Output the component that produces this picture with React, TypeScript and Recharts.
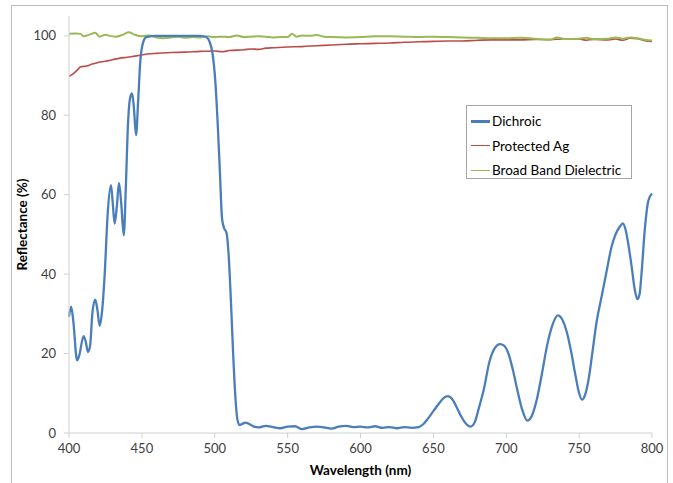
import React from "react";
import { Label, Line, LineChart, XAxis, YAxis } from "recharts";

// Dichroic mirror
const dichroicNm = [
  400, 401.5, 403, 405.5, 407, 410, 411.5, 413, 414.5, 416, 418, 419.5, 421, 422.5, 424.5, 426.5, 428.8, 430,
  431.3, 432.8, 434.3, 435.8, 437.6, 439, 440.5, 442, 443.3, 444.5, 446, 447.5, 449, 451, 453, 460, 470, 480,
  490, 494, 496.5, 498.5, 500.5, 502, 503.5, 505, 506.5, 508, 509.5, 511, 512.5, 514, 515.5, 517, 519, 521,
  524, 527, 530, 535, 540, 545, 550, 555, 560, 565, 570, 575, 580, 585, 590, 595, 600, 605, 610, 615, 620,
  625, 630, 635, 640, 643, 646, 650, 654, 657, 660, 663, 666, 669, 672, 675.5, 678.5, 681, 684.5, 688.5, 692,
  695.7, 698.5, 701.5, 704.5, 707.5, 711, 714.5, 717.5, 721, 724.5, 728, 731.5, 735.5, 738.5, 741.5, 744.5,
  747.5, 750, 752, 754, 756.5, 759, 762, 765.5, 769, 772, 775, 778, 780, 782, 784, 786, 788, 790, 791.5, 793,
  795, 797.5, 800,
];
const dichroicR = [
  29.3, 31.8, 28, 18.3, 19.5, 24.4, 23, 20.4, 22, 30, 33.6, 31, 27, 30, 40, 55, 62.4, 58,
  52.7, 57, 63, 58, 49.8, 62, 78, 84.5, 85.5, 82, 75, 84, 94, 98.5, 99.7, 100, 100, 100,
  100, 99.7, 98.5, 95.5, 88, 78, 66, 54, 51.5, 50.5, 45, 34, 21, 10, 3.5, 2, 2.3, 2.6,
  2.2, 1.6, 1.4, 1.8, 1.5, 1.2, 1.6, 1.7, 1.0, 1.4, 1.6, 1.4, 1.1, 1.6, 1.8, 1.5, 1.6, 1.4, 1.7, 1.3, 1.5,
  1.2, 1.5, 1.3, 1.5, 2.2, 3.5, 5.5, 7.5, 8.8, 9.3, 8.5, 6.5, 4.2, 2.5, 1.6, 2.8, 6, 10.8, 18, 21.3,
  22.4, 22, 20, 16, 11, 5.8, 3.1, 4.3, 8.5, 15, 22, 27, 29.6, 28.5, 25.5, 20.5,
  14.5, 10, 8.4, 9.5, 13.5, 20, 28, 34.5, 41, 46.5, 50, 52, 52.8, 51, 47, 42, 36.5, 33.7, 35, 41,
  51, 58.5, 60.3,
];

// Protected Ag
const agNm = [
  400, 403, 406, 408, 412, 416, 420, 425, 430, 435, 440, 445, 450, 455, 460, 470, 480, 490, 500, 505, 510,
  520, 525, 530, 535, 540, 550, 560, 570, 580, 590, 600, 610, 620, 630, 640, 650, 660, 670, 680, 690, 700,
  710, 720, 730, 740, 750, 755, 760, 770, 775, 780, 785, 790, 795, 800,
];
const agR = [
  89.8, 90.5, 91.5, 92.2, 92.4, 92.9, 93.3, 93.6, 94, 94.4, 94.6, 94.9, 95.2, 95.5, 95.6, 95.8, 95.9, 96.1, 96.2, 96.0, 96.3,
  96.5, 96.7, 96.6, 96.9, 97.0, 97.2, 97.3, 97.5, 97.7, 97.9, 98.0, 98.1, 98.2, 98.4, 98.5, 98.6, 98.7, 98.7, 98.9, 99.0, 99.0,
  99.0, 99.1, 99.1, 99.2, 99.2, 98.9, 99.1, 99.0, 99.2, 98.9, 99.4, 99.3, 98.8, 98.6,
];

// Broad Band Dielectric
const bbdNm = [
  400, 405, 408, 410, 414, 418, 421, 425, 428, 432, 437, 441, 445, 450, 455, 460, 465, 470, 475, 480, 485,
  490, 495, 500, 505, 510, 515, 520, 525, 530, 535, 540, 545, 550, 553, 556, 560, 565, 570, 575, 580, 590,
  600, 610, 620, 630, 640, 650, 660, 670, 680, 690, 700, 710, 720, 730, 735, 740, 750, 755, 760, 770, 775,
  780, 785, 790, 795, 800,
];
const bbdR = [
  100.5, 100.6, 100.5, 99.9, 100.3, 100.8, 99.8, 100.3, 100, 99.8, 100.3, 100.9, 100.3, 99.9, 100.1, 99.6, 99.4, 99.6, 99.8, 99.5, 99.7,
  99.6, 99.9, 99.7, 99.8, 99.7, 100.1, 99.7, 99.8, 99.9, 99.8, 99.6, 99.7, 99.7, 100.5, 99.8, 100.1, 100.0, 100.2, 99.8, 99.7, 99.6,
  99.7, 99.9, 99.9, 99.8, 99.7, 99.8, 99.7, 99.6, 99.5, 99.4, 99.4, 99.5, 99.3, 99.0, 99.6, 99.2, 99.3, 99.5, 99.2, 99.3, 99.6,
  99.3, 99.6, 99.4, 99.0, 98.8,
];

const xTicks = [400, 450, 500, 550, 600, 650, 700, 750, 800];
const yTicks = [0, 20, 40, 60, 80, 100];

const legendItems = [
  { name: "Dichroic", color: "#4a7ebb", width: 2.5 },
  { name: "Protected Ag", color: "#be4b48", width: 1 },
  { name: "Broad Band Dielectric", color: "#98b954", width: 1 },
];

const toRows = (nm: number[], r: number[]) => nm.map((x, i) => ({ nm: x, r: r[i] }));

const font = "Lato, 'Open Sans', sans-serif";
const tickStyle = { fontSize: 13, fill: "#404040", fontFamily: font };
const titleStyle = { fontSize: 13.5, fontWeight: 700, fill: "#000", fontFamily: font };
const axisColor = "#d0d0d0";

export default function App() {
  return (
    <div style={{ position: "absolute", left: 0, top: 0, width: 673, height: 483, overflow: "hidden", background: "#fff" }}>
      <div
        style={{
          position: "absolute",
          left: 11,
          top: 5,
          width: 657,
          height: 490,
          border: "1px solid #bdbdbd",
          boxSizing: "border-box",
        }}
      />
      <div style={{ position: "absolute", left: 0, top: 0 }}>
        <LineChart width={673} height={483} margin={{ top: 16, right: 21, bottom: 0, left: 0 }}>
          <XAxis
            type="number"
            dataKey="nm"
            domain={[400, 800]}
            ticks={xTicks}
            height={50}
            stroke={axisColor}
            tickSize={5}
            tickMargin={6}
            tick={tickStyle}
            allowDuplicatedCategory={false}
          >
            <Label value="Wavelength (nm)" position="insideBottom" offset={8} style={titleStyle} />
          </XAxis>
          <YAxis
            type="number"
            dataKey="r"
            domain={[0, 105]}
            ticks={yTicks}
            width={69}
            stroke={axisColor}
            tickSize={5}
            tickMargin={8}
            tick={tickStyle}
          >
            <Label
              value="Reflectance (%)"
              angle={-90}
              position="insideLeft"
              offset={22}
              style={{ ...titleStyle, textAnchor: "middle" }}
            />
          </YAxis>
          <Line
            data={toRows(agNm, agR)}
            dataKey="r"
            type="monotone"
            stroke="#be4b48"
            strokeWidth={1.6}
            dot={false}
            isAnimationActive={false}
          />
          <Line
            data={toRows(bbdNm, bbdR)}
            dataKey="r"
            type="monotone"
            stroke="#98b954"
            strokeWidth={2}
            dot={false}
            isAnimationActive={false}
          />
          <Line
            data={toRows(dichroicNm, dichroicR)}
            dataKey="r"
            type="monotone"
            stroke="#4a7ebb"
            strokeWidth={2.3}
            dot={false}
            isAnimationActive={false}
          />
        </LineChart>
      </div>
      <div
        style={{
          position: "absolute",
          left: 466,
          top: 105,
          width: 166,
          height: 74,
          border: "1px solid #a6a6a6",
          boxSizing: "border-box",
          background: "#fff",
          fontFamily: font,
          fontSize: 13.5,
          color: "#000",
          paddingTop: 3,
        }}
      >
        {legendItems.map((it) => (
          <div key={it.name} style={{ display: "flex", alignItems: "center", height: 24.5, paddingLeft: 4 }}>
            <span style={{ display: "inline-block", width: 19, height: it.width, background: it.color, marginRight: 2 }} />
            <span>{it.name}</span>
          </div>
        ))}
      </div>
    </div>
  );
}
